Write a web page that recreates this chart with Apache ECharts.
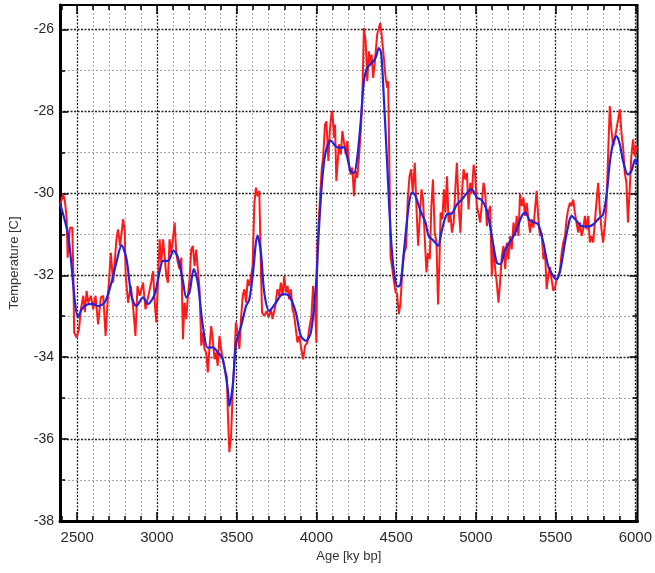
<!DOCTYPE html>
<html>
<head>
<meta charset="utf-8">
<script src="https://cdn.jsdelivr.net/npm/echarts@6/dist/echarts.min.js"></script>
<style>
  html, body { margin: 0; padding: 0; background: #fff; }
  #chart { width: 655px; height: 573px; }
</style>
</head>
<body>
<div id="chart"></div>
<script>
// Raw temperature record (age in years bp, temperature in °C)
const ages = [
  2392, 2412, 2423, 2434, 2440, 2454, 2469, 2475, 2481, 2496, 2511, 2523, 2538, 2548, 2559, 2569, 2586, 2600, 2615, 2631,
  2648, 2663, 2678, 2694, 2711, 2725, 2746, 2756, 2769, 2788, 2798, 2804, 2819, 2836, 2850, 2865, 2878, 2892, 2913, 2928,
  2944, 2965, 2976, 2986, 2996, 3006, 3017, 3027, 3038, 3048, 3059, 3069, 3079, 3090, 3100, 3111, 3121, 3131, 3142, 3153,
  3163, 3173, 3184, 3194, 3204, 3215, 3225, 3236, 3246, 3256, 3267, 3278, 3288, 3298, 3309, 3319, 3329, 3340, 3350, 3361,
  3371, 3381, 3392, 3402, 3413, 3429, 3438, 3446, 3454, 3465, 3475, 3486, 3495, 3506, 3517, 3527, 3538, 3548, 3559, 3569,
  3579, 3590, 3600, 3611, 3621, 3631, 3642, 3652, 3659, 3673, 3688, 3700, 3715, 3725, 3742, 3756, 3767, 3777, 3788, 3798,
  3809, 3819, 3829, 3840, 3850, 3861, 3871, 3881, 3892, 3902, 3917, 3929, 3944, 3954, 3969, 3979, 3992, 4000, 4006, 4017,
  4034, 4042, 4054, 4063, 4075, 4084, 4094, 4100, 4111, 4117, 4125, 4134, 4142, 4153, 4163, 4173, 4184, 4194, 4204, 4215,
  4225, 4236, 4246, 4256, 4267, 4278, 4288, 4298, 4309, 4319, 4329, 4340, 4346, 4356, 4367, 4381, 4392, 4400, 4409, 4423,
  4434, 4444, 4450, 4459, 4465, 4475, 4486, 4496, 4506, 4517, 4527, 4538, 4548, 4563, 4573, 4584, 4594, 4604, 4617, 4627,
  4638, 4648, 4659, 4669, 4679, 4690, 4700, 4711, 4721, 4731, 4742, 4753, 4763, 4771, 4779, 4790, 4800, 4809, 4819, 4829,
  4840, 4850, 4861, 4871, 4881, 4892, 4903, 4913, 4923, 4934, 4944, 4954, 4965, 4975, 4986, 4995, 5006, 5017, 5027, 5038,
  5048, 5059, 5069, 5079, 5090, 5100, 5111, 5121, 5131, 5142, 5153, 5163, 5173, 5184, 5194, 5204, 5215, 5225, 5236, 5246,
  5256, 5267, 5277, 5288, 5298, 5309, 5319, 5329, 5340, 5350, 5361, 5371, 5381, 5392, 5402, 5413, 5423, 5434, 5444, 5454,
  5465, 5475, 5486, 5496, 5506, 5517, 5527, 5538, 5548, 5559, 5569, 5579, 5590, 5600, 5611, 5621, 5631, 5642, 5652, 5663,
  5673, 5684, 5694, 5704, 5715, 5725, 5736, 5746, 5756, 5767, 5777, 5788, 5798, 5809, 5819, 5829, 5840, 5850, 5861, 5871,
  5881, 5892, 5903, 5913, 5923, 5934, 5944, 5954, 5965, 5975, 5986, 5996, 6006, 6013
];
const temps = [
  -30.30, -30.02, -30.19, -30.63, -31.57, -30.84, -30.83, -31.85, -33.40, -33.52, -33.32, -32.83, -32.50, -32.90, -32.38, -32.67, -32.50, -32.83, -32.50, -33.20,
  -32.54, -32.50, -33.48, -32.42, -31.45, -32.18, -31.12, -30.88, -31.28, -30.63, -30.92, -32.02, -32.67, -32.26, -32.75, -33.48, -32.26, -32.50, -32.18, -32.83,
  -32.54, -32.15, -31.90, -32.67, -33.15, -32.18, -31.12, -31.69, -31.12, -31.53, -32.02, -32.18, -31.12, -31.45, -31.12, -30.71, -31.45, -31.69, -31.85, -31.57,
  -33.56, -32.67, -33.07, -32.50, -32.10, -31.37, -31.28, -31.77, -31.37, -31.85, -32.34, -33.72, -33.40, -33.80, -33.89, -34.37, -33.80, -33.24, -33.56, -34.05,
  -33.89, -34.21, -33.48, -33.80, -34.05, -34.37, -34.46, -35.51, -36.32, -35.92, -34.86, -34.05, -33.15, -33.40, -33.80, -33.07, -32.50, -32.34, -32.67, -32.10,
  -32.26, -32.02, -31.77, -30.23, -29.86, -30.07, -29.94, -31.85, -32.91, -32.99, -32.87, -33.03, -32.83, -33.07, -32.75, -32.34, -32.50, -32.18, -32.50, -32.02,
  -32.42, -32.26, -32.59, -32.34, -32.83, -32.99, -33.32, -33.64, -33.48, -33.72, -34.05, -33.72, -33.64, -33.32, -32.99, -32.26, -32.83, -33.64, -31.33, -30.51,
  -29.37, -29.13, -28.32, -28.24, -29.21, -28.48, -28.07, -27.99, -28.64, -28.32, -29.70, -29.21, -28.80, -29.05, -28.48, -28.44, -29.05, -28.72, -29.29, -29.54,
  -29.37, -30.07, -29.46, -29.62, -29.13, -28.48, -27.67, -25.96, -26.28, -27.26, -26.53, -26.85, -26.61, -27.18, -26.77, -26.12, -25.96, -25.84, -26.12, -26.69,
  -27.18, -27.42, -27.26, -29.70, -31.55, -31.81, -32.14, -32.40, -32.46, -32.95, -32.70, -31.95, -31.50, -31.30, -30.15, -29.58, -29.41, -29.98, -29.25, -30.31,
  -31.28, -30.63, -29.90, -30.15, -31.04, -31.93, -31.45, -31.61, -30.31, -29.66, -30.96, -31.20, -32.71, -31.77, -30.47, -30.63, -29.90, -30.47, -29.58, -30.71,
  -30.47, -30.96, -30.71, -29.90, -29.25, -30.31, -30.96, -29.98, -29.41, -29.66, -29.50, -30.39, -29.74, -30.00, -29.30, -29.50, -30.31, -30.50, -30.71, -30.23,
  -29.74, -30.00, -30.80, -30.47, -30.31, -32.02, -31.28, -31.85, -32.18, -32.67, -32.10, -31.53, -31.28, -31.85, -31.20, -31.61, -31.04, -31.37, -30.71, -31.04,
  -30.55, -31.04, -30.02, -30.31, -30.10, -30.55, -30.23, -30.63, -30.96, -30.63, -30.84, -30.39, -29.94, -30.63, -31.04, -30.96, -31.61, -31.45, -32.34, -32.02,
  -31.80, -32.10, -32.38, -32.30, -32.10, -32.00, -31.90, -31.45, -31.20, -31.04, -30.63, -30.39, -30.23, -30.31, -30.15, -30.47, -30.71, -30.96, -30.71, -31.04,
  -30.88, -30.55, -30.88, -30.55, -31.20, -31.04, -31.20, -30.71, -30.23, -29.74, -30.39, -30.88, -31.20, -30.80, -30.31, -29.09, -27.87, -28.44, -28.85, -28.68,
  -28.44, -28.20, -27.95, -28.52, -28.85, -29.50, -29.74, -30.71, -29.90, -29.09, -28.68, -29.09, -28.85, -28.90
];

// Smoothed record
const smoothAges = [
  2392, 2444, 2486, 2506, 2528, 2559, 2592, 2631, 2673, 2715, 2746, 2778, 2809, 2840, 2871, 2913, 2944, 2986, 3017, 3038,
  3069, 3104, 3131, 3163, 3184, 3204, 3231, 3256, 3288, 3319, 3350, 3381, 3413, 3444, 3454, 3475, 3496, 3528, 3559, 3579,
  3600, 3631, 3652, 3673, 3704, 3746, 3788, 3829, 3871, 3902, 3934, 3965, 3996, 4017, 4038, 4059, 4090, 4121, 4153, 4173,
  4194, 4215, 4236, 4256, 4278, 4298, 4319, 4350, 4371, 4392, 4406, 4423, 4444, 4465, 4486, 4511, 4527, 4548, 4579, 4600,
  4621, 4653, 4684, 4704, 4736, 4763, 4788, 4819, 4850, 4881, 4913, 4954, 4975, 5006, 5038, 5069, 5100, 5131, 5153, 5184,
  5225, 5256, 5288, 5309, 5340, 5371, 5392, 5423, 5454, 5486, 5506, 5528, 5559, 5579, 5600, 5631, 5663, 5704, 5736, 5767,
  5798, 5819, 5840, 5861, 5881, 5903, 5923, 5954, 5975, 6000, 6013
];
const smoothTemps = [
  -30.25, -31.04, -32.66, -33.02, -32.83, -32.72, -32.70, -32.75, -32.66, -32.17, -31.68, -31.27, -31.60, -32.50, -32.75, -32.54, -32.70, -32.46, -31.90, -31.65,
  -31.65, -31.40, -31.56, -32.14, -32.54, -32.42, -31.85, -32.18, -33.24, -33.77, -33.76, -33.88, -34.05, -34.78, -35.19, -34.70, -33.68, -33.24, -32.75, -32.60,
  -32.02, -31.04, -31.44, -32.42, -32.87, -32.67, -32.46, -32.50, -32.91, -33.48, -33.60, -33.40, -32.30, -30.80, -29.60, -28.97, -28.71, -28.85, -28.89, -28.87,
  -29.13, -29.46, -29.50, -29.13, -28.24, -27.26, -26.93, -26.81, -26.69, -26.45, -26.57, -27.67, -29.29, -30.92, -31.90, -32.28, -32.22, -31.45, -30.30, -29.98,
  -30.06, -30.43, -30.71, -31.04, -31.16, -31.28, -30.88, -30.51, -30.49, -30.27, -30.15, -29.94, -29.90, -30.10, -30.17, -30.41, -31.04, -31.69, -31.73, -31.37,
  -31.12, -30.88, -30.55, -30.47, -30.67, -30.71, -30.76, -31.20, -31.78, -32.02, -32.10, -31.90, -31.20, -30.80, -30.55, -30.67, -30.80, -30.81, -30.76, -30.63,
  -30.51, -30.06, -29.25, -28.76, -28.60, -28.80, -29.21, -29.54, -29.46, -29.17, -29.30
];

// Tick positions
const ageMajorTicks = [2500, 3000, 3500, 4000, 4500, 5000, 5500, 6000];
const ageMinorTicks = [2400, 2600, 2700, 2800, 2900, 3100, 3200, 3300, 3400, 3600, 3700, 3800, 3900,
  4100, 4200, 4300, 4400, 4600, 4700, 4800, 4900, 5100, 5200, 5300, 5400, 5600, 5700, 5800, 5900];
const tempMajorTicks = [-38, -36, -34, -32, -30, -28, -26];
const tempMinorTicks = [-37, -35, -33, -31, -29, -27];

const AGE_MIN = 2392, AGE_MAX = 6014;
const TEMP_MIN = -38, TEMP_MAX = -25.4;

const FONT = 'Liberation Sans, Arial, sans-serif';
const majorGrid = { show: true, lineStyle: { color: '#222', width: 1.3, type: [2, 1.5] } };
const minorGrid = { show: true, lineStyle: { color: '#a8a8a8', width: 1, type: [2, 2] } };

function pairs(xs, ys) {
  return xs.map((x, i) => [x, ys[i]]);
}

function axisLayer(kind, position, ticks, tickLen, grid, labels, line) {
  const isX = kind === 'x';
  return {
    type: 'value',
    position: position,
    min: isX ? AGE_MIN : TEMP_MIN,
    max: isX ? AGE_MAX : TEMP_MAX,
    axisLine: line ? { show: true, onZero: false, lineStyle: { color: '#000', width: 3 } } : { show: false, onZero: false },
    axisTick: { show: true, inside: true, length: tickLen, customValues: ticks,
                lineStyle: { color: '#000', width: 1.5 } },
    axisLabel: labels ? { show: true, customValues: ticks, color: '#2a2a2a',
                          fontSize: isX ? 15 : 14, fontFamily: FONT, margin: isX ? 9 : 6,
                          formatter: v => String(v) } : { show: false },
    splitLine: grid ? grid : { show: false },
    z: 2
  };
}

const xAxes = [
  axisLayer('x', 'bottom', ageMinorTicks, 5, minorGrid, false, false),
  Object.assign(axisLayer('x', 'bottom', ageMajorTicks, 9, majorGrid, true, true), {
    name: 'Age [ky bp]', nameLocation: 'middle', nameGap: 29,
    nameTextStyle: { color: '#333', fontSize: 13, fontFamily: FONT }
  }),
  axisLayer('x', 'top', ageMinorTicks, 5, null, false, false),
  axisLayer('x', 'top', ageMajorTicks, 9, null, false, false)
];
const yAxes = [
  axisLayer('y', 'left', tempMinorTicks, 5, minorGrid, false, false),
  Object.assign(axisLayer('y', 'left', tempMajorTicks, 8, majorGrid, true, true), {
    name: 'Temperature [C]', nameLocation: 'middle', nameGap: 39,
    nameTextStyle: { color: '#333', fontSize: 13, fontFamily: FONT }
  }),
  axisLayer('y', 'right', tempMinorTicks, 5, null, false, false),
  axisLayer('y', 'right', tempMajorTicks, 8, null, false, false)
];

const chart = echarts.init(document.getElementById('chart'), null, { renderer: 'canvas' });
chart.setOption({
  animation: false,
  backgroundColor: '#fff',
  grid: { left: 60, right: 15, top: 5, bottom: 52, show: true,
          borderColor: '#000', borderWidth: 2, backgroundColor: '#fff' },
  xAxis: xAxes,
  yAxis: yAxes,
  series: [
    {
      name: 'raw', type: 'line', xAxisIndex: 0, yAxisIndex: 0,
      data: pairs(ages, temps), showSymbol: false, symbol: 'none',
      lineStyle: { color: '#ff1a1a', width: 2 }, z: 3
    },
    {
      name: 'smoothed', type: 'line', xAxisIndex: 0, yAxisIndex: 0,
      data: pairs(smoothAges, smoothTemps), showSymbol: false, symbol: 'none', smooth: 0.3,
      lineStyle: { color: '#2323d8', width: 2.2 }, z: 4
    }
  ]
});
</script>
</body>
</html>
